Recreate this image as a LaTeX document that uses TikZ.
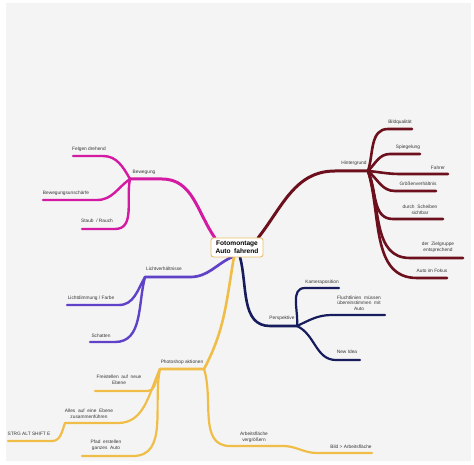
\documentclass[tikz,border=0pt]{standalone}
\usepackage{fontspec}
\setmainfont{Liberation Sans}
\definecolor{cmag}{RGB}{212,26,162}
\definecolor{cmar}{RGB}{108,16,30}
\definecolor{cpur}{RGB}{96,66,200}
\definecolor{cnav}{RGB}{22,28,92}
\definecolor{cyel}{RGB}{240,190,72}
\definecolor{cbox}{RGB}{232,190,100}
\definecolor{cbg}{RGB}{244,244,244}
\definecolor{ctxt}{RGB}{55,55,55}
\begin{document}
\begin{tikzpicture}[x=1pt,y=-1pt,
  lbl/.style={font=\fontsize{4.8}{5.6}\selectfont, text=ctxt, inner sep=0pt, align=center},
  mainbr/.style={line width=3pt, line cap=round},
  subbr/.style={line width=2.4pt, line cap=round},
  cnode/.style={draw=cbox, line width=0.9pt, fill=white, rounded corners=2.5pt,
    minimum width=52pt, minimum height=19pt, inner sep=1pt, align=center,
    font=\fontsize{6.6}{7.6}\selectfont\bfseries}]
\useasboundingbox (0,0) rectangle (474,465);
\fill[white] (0,0) rectangle (474,465);
\fill[cbg] (6,3) rectangle (471,461);

% coordinates on the central topic
\coordinate (cM) at (215,238);
\coordinate (cH) at (258,238);
\coordinate (cL) at (232,257);
\coordinate (cP) at (240,257);
\coordinate (cY) at (234,257);

% ---------- Bewegung (magenta)
\coordinate (bwJ) at (130,179);
\coordinate (bwA) at (162,179);
\coordinate (fdA) at (103,156); \coordinate (fdE) at (73,156);
\coordinate (buA) at (97,200);  \coordinate (buE) at (43,200);
\coordinate (srA) at (115,229); \coordinate (srE) at (82,229);
\draw[cmag,mainbr] (bwJ) -- (bwA) to[out=0,in=125] (cM);
\draw[cmag,subbr] (bwJ) to[out=120,in=0] (fdA) -- (fdE);
\draw[cmag,subbr] (bwJ) to[out=215,in=0] (buA) -- (buE);
\draw[cmag,subbr] (bwJ) to[out=258,in=0] (srA) -- (srE);
\node[lbl] (tbw) at (144,172) {Bewegung};
\node[lbl] (tfd) at (89,149) {Felgen drehend};
\node[lbl] (tbu) at (66,193) {Bewegungsunschärfe};
\node[lbl] (tsr) at (97,221) {Staub\ \ / Rauch};

% ---------- Hintergrund (maroon)
\coordinate (hgJ) at (368,171);
\coordinate (hgA) at (335,171);
\coordinate (bqA) at (388,129); \coordinate (bqE) at (412,129);
\coordinate (spA) at (390,154); \coordinate (spE) at (420,154);
\coordinate (faA) at (400,174); \coordinate (faE) at (448,174);
\coordinate (gvA) at (395,191); \coordinate (gvE) at (436,191);
\coordinate (dsA) at (393,219); \coordinate (dsE) at (443,219);
\coordinate (zgA) at (410,258); \coordinate (zgE) at (463,258);
\coordinate (afA) at (417,278); \coordinate (afE) at (447,278);
\draw[cmar,mainbr] (hgJ) -- (hgA) to[out=180,in=52] (cH);
\draw[cmar,subbr,line width=2.6pt] (hgJ) to[out=72,in=180] (bqA) -- (bqE);
\draw[cmar,subbr,line width=2.6pt] (hgJ) to[out=45,in=180] (spA) -- (spE);
\draw[cmar,subbr,line width=2.6pt] (hgJ) to[out=-5,in=180] (faA) -- (faE);
\draw[cmar,subbr,line width=2.6pt] (hgJ) to[out=-40,in=180] (gvA) -- (gvE);
\draw[cmar,subbr,line width=2.6pt] (hgJ) to[out=-65,in=180] (dsA) -- (dsE);
\draw[cmar,subbr,line width=2.6pt] (hgJ) to[out=-70,in=180] (zgA) -- (zgE);
\draw[cmar,subbr,line width=2.6pt] (hgJ) to[out=-73,in=180] (afA) -- (afE);
\node[lbl] (thg) at (354,163) {Hintergrund};
\node[lbl] (tbq) at (400,122) {Bildqualität};
\node[lbl] (tsp) at (408,147) {Spiegelung};
\node[lbl] (tfa) at (438,168) {Fahrer};
\node[lbl] (tgv) at (418,184) {Größenverhältnis};
\node[lbl] (tds) at (420,209.5) {durch\ \ Scheiben\\sichtbar};
\node[lbl] (tzg) at (438,247.5) {der\ \ Zielgruppe\\entsprechend};
\node[lbl] (taf) at (432,271) {Auto im Fokus};

% ---------- Lichtverhältnisse (purple)
\coordinate (lvJ) at (145,277);
\coordinate (lvA) at (190,277);
\coordinate (ldA) at (119,305); \coordinate (ldE) at (67,305);
\coordinate (scA) at (115,342); \coordinate (scE) at (90,342);
\draw[cpur,mainbr,line width=2.7pt] (lvJ) -- (lvA) to[out=0,in=205] (cL);
\draw[cpur,subbr] (lvJ) to[out=240,in=0] (ldA) -- (ldE);
\draw[cpur,subbr] (lvJ) to[out=255,in=0] (scA) -- (scE);
\node[lbl] (tlv) at (164,269) {Lichtverhältnisse};
\node[lbl] (tld) at (91,298) {Lichtdimmung / Farbe};
\node[lbl] (tsc) at (101,336) {Schatten};

% ---------- Perspektive (navy)
\coordinate (psJ) at (297,326);
\coordinate (psA) at (270,326);
\coordinate (kpA) at (305,288); \coordinate (kpE) at (339,288);
\coordinate (flA) at (332,315); \coordinate (flE) at (385,315);
\coordinate (niA) at (336,360); \coordinate (niE) at (360,360);
\draw[cnav,mainbr,line width=2.6pt] (psJ) -- (psA) to[out=180,in=-75] (cP);
\draw[cnav,subbr,line width=2.2pt] (psJ) to[out=84,in=180] (kpA) -- (kpE);
\draw[cnav,subbr,line width=2.2pt] (psJ) to[out=25,in=180] (flA) -- (flE);
\draw[cnav,subbr,line width=2.2pt] (psJ) to[out=-25,in=180] (niA) -- (niE);
\node[lbl] (tps) at (282,318) {Perspektive};
\node[lbl] (tkp) at (322,282) {Kameraposition};
\node[lbl] (tfl) at (359,303) {Fluchtlinien\ \ müssen\\übereinstimmen\ \ mit\\Auto};
\node[lbl] (tni) at (347,352) {New Idea};

% ---------- Photoshop aktionen (yellow)
\coordinate (phL) at (160,369);
\coordinate (phR) at (204,369);
\coordinate (frA) at (147,391); \coordinate (frE) at (95,391);
\coordinate (alA) at (118,423); \coordinate (alE) at (65,423);
\coordinate (stA) at (52,441);  \coordinate (stE) at (8,441);
\coordinate (pfA) at (133,456); \coordinate (pfE) at (82,456);
\coordinate (avA) at (230,446); \coordinate (avE) at (283,446);
\coordinate (baA) at (317,453); \coordinate (baE) at (372,453);
\draw[cyel,mainbr,line width=2.6pt] (phL) -- (phR) to[out=62,in=-100] (cY);
\draw[cyel,subbr,line width=2.2pt] (phL) to[out=240,in=0] (frA) -- (frE);
\draw[cyel,subbr,line width=2.2pt] (phL) to[out=245,in=0] (alA) -- (alE);
\draw[cyel,subbr,line width=2.2pt] (alE) to[out=250,in=0] (stA) -- (stE);
\draw[cyel,subbr,line width=2.2pt] (phL) to[out=258,in=0] (pfA) -- (pfE);
\draw[cyel,subbr,line width=2.2pt] (phR) to[out=-72,in=180] (avA) -- (avE);
\draw[cyel,subbr,line width=2.2pt] (avE) to[out=0,in=180] (baA) -- (baE);
\node[lbl] (tph) at (182,362) {Photoshop aktionen};
\node[lbl] (tfr) at (119,380) {Freistellen\ \ auf\ \ neue\\Ebene};
\node[lbl] (tal) at (89,413.5) {Alles\ \ auf\ \ eine\ \ Ebene\\zusammenführen};
\node[lbl] (tst) at (29,434) {STRG ALT SHIFT E};
\node[lbl] (tpf) at (106,445) {Pfad\ \ erstellen\\ganzes\ \ Auto};
\node[lbl] (tav) at (254,437) {Arbeitsfläche\\vergrößern};
\node[lbl] (tba) at (351,447) {Bild > Arbeitsfläche};

% ---------- central topic
\node[cnode] (C) at (237,247.5) {Fotomontage\\Auto\ \ fahrend};
\end{tikzpicture}
\end{document}
